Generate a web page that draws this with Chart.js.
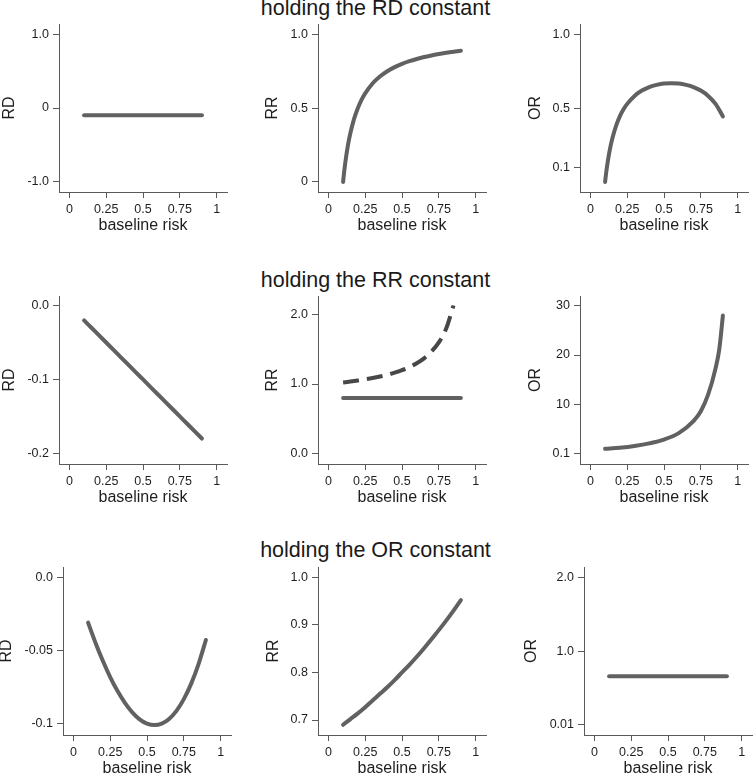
<!DOCTYPE html>
<html>
<head>
<meta charset="utf-8">
<script src="https://cdn.jsdelivr.net/npm/chart.js@4.4.1/dist/chart.umd.min.js"></script>
<style>
html,body{margin:0;padding:0;background:#fff;width:753px;height:773px;overflow:hidden;}
#wrap{position:relative;width:753px;height:773px;}
#wrap canvas{position:absolute;}
.rowtitle{position:absolute;left:-1px;width:753px;text-align:center;font-family:"Liberation Sans",Arial,Helvetica,sans-serif;font-size:21.5px;line-height:22px;color:#1a1a1a;white-space:nowrap;}
</style>
</head>
<body>
<div id="wrap"></div>
<script>
// ---------------- data ----------------
const rowTitles = ["holding the RD constant", "holding the RR constant", "holding the OR constant"];
const xAxisTitle = "baseline risk";
const yAxisTitles = ["RD", "RR", "OR"];

const baselineRisk = [0.1, 0.15, 0.2, 0.25, 0.3, 0.35, 0.4, 0.45, 0.5, 0.55, 0.6, 0.65, 0.7, 0.75, 0.8, 0.85, 0.9];
const baselineRiskFine = [0.1, 0.105, 0.11, 0.12, 0.13, 0.14, 0.15, 0.175, 0.2, 0.225, 0.25, 0.3, 0.35, 0.4, 0.45, 0.5, 0.55, 0.6, 0.65, 0.7, 0.75, 0.8, 0.85, 0.9];
const xTickValues = [0, 0.25, 0.5, 0.75, 1];
const xTickLabels = ["0", "0.25", "0.5", "0.75", "1"];

// row 1: RD held constant
const rdConstRD = [-0.1, -0.1, -0.1, -0.1, -0.1, -0.1, -0.1, -0.1, -0.1, -0.1, -0.1, -0.1, -0.1, -0.1, -0.1, -0.1, -0.1];
const rdConstRR = [0, 0.048, 0.091, 0.167, 0.231, 0.286, 0.333, 0.429, 0.5, 0.556, 0.6, 0.667, 0.714, 0.75, 0.778, 0.8, 0.818, 0.833, 0.846, 0.857, 0.867, 0.875, 0.882, 0.889];
const rdConstOR = [0, 0.043, 0.082, 0.15, 0.207, 0.256, 0.298, 0.382, 0.444, 0.492, 0.529, 0.583, 0.619, 0.643, 0.658, 0.667, 0.669, 0.667, 0.658, 0.643, 0.619, 0.583, 0.529, 0.444];

// row 2: RR held constant
const rrConstRD = [-0.02, -0.03, -0.04, -0.05, -0.06, -0.07, -0.08, -0.09, -0.1, -0.11, -0.12, -0.13, -0.14, -0.15, -0.16, -0.17, -0.18];
const rrConstRR = [0.8, 0.8, 0.8, 0.8, 0.8, 0.8, 0.8, 0.8, 0.8, 0.8, 0.8, 0.8, 0.8, 0.8, 0.8, 0.8, 0.8];
const rrConstRRdashed = [1.022, 1.035, 1.05, 1.067, 1.086, 1.108, 1.133, 1.164, 1.2, 1.244, 1.3, 1.371, 1.467, 1.6, 1.8, 2.133, null];
const rrConstORRisk = [0.1, 0.2, 0.3, 0.4, 0.5, 0.6, 0.7, 0.75, 0.8, 0.85, 0.875, 0.9];
const rrConstOR = [0.97, 1.21, 1.57, 2.09, 2.86, 4.17, 6.6, 8.6, 12.0, 17.3, 21.1, 28.0];

// row 3: OR held constant
const orConstRD = [-0.031, -0.0447, -0.0571, -0.0682, -0.0778, -0.0858, -0.0923, -0.0971, -0.1, -0.101, -0.1, -0.0968, -0.0913, -0.0833, -0.0727, -0.0593, -0.0429];
const orConstRR = [0.69, 0.702, 0.714, 0.727, 0.741, 0.755, 0.769, 0.784, 0.8, 0.816, 0.833, 0.851, 0.87, 0.889, 0.909, 0.93, 0.952];
const orConstOR = [0.667, 0.667, 0.667, 0.667, 0.667, 0.667, 0.667, 0.667, 0.667, 0.667, 0.667, 0.667, 0.667, 0.667, 0.667, 0.667, 0.667];

// y tick values and labels per panel
const yTicksRD1 = [-1, 0, 1];          const yLabelsRD1 = ["-1.0", "0", "1.0"];
const yTicksRR1 = [0, 0.5, 1];         const yLabelsRR1 = ["0", "0.5", "1.0"];
const yTicksOR1 = [0.1, 0.5, 1];       const yLabelsOR1 = ["0.1", "0.5", "1.0"];
const yTicksRD2 = [-0.2, -0.1, 0];     const yLabelsRD2 = ["-0.2", "-0.1", "0.0"];
const yTicksRR2 = [0, 1, 2];           const yLabelsRR2 = ["0.0", "1.0", "2.0"];
const yTicksOR2 = [0.1, 10, 20, 30];   const yLabelsOR2 = ["0.1", "10", "20", "30"];
const yTicksRD3 = [-0.1, -0.05, 0];    const yLabelsRD3 = ["-0.1", "-0.05", "0.0"];
const yTicksRR3 = [0.7, 0.8, 0.9, 1];  const yLabelsRR3 = ["0.7", "0.8", "0.9", "1.0"];
const yTicksOR3 = [0.01, 1, 2];        const yLabelsOR3 = ["0.01", "1.0", "2.0"];

// ---------------- styling / layout ----------------
const FONT = '"Liberation Sans", Arial, Helvetica, sans-serif';
Chart.defaults.font.family = FONT;
const SOLID = '#616161';
const DASHED = '#474747';
const AXIS = '#5a5a5a';
const TEXT = '#1e1e1e';

const areaW = 168, areaH = 168;
const areaLeft = [[59, 318, 580], [59, 318, 580], [63, 318, 584]];
const areaTop = [24, 296, 567];
const yTitleCx = [[10, 273, 536], [10, 273, 536], [7, 274, 532]];
const titleFont = 16, titleLH = titleFont * 1.2;
const padTop = 14;
const xTitleGap = 33;
const rowTitleBaseline = [15, 287, 557];

const panels = [
  {r:0, c:0, yt:0, ymin:-1.14, ymax:1.14, ticks:yTicksRD1, labels:yLabelsRD1, series:[{x:baselineRisk, y:rdConstRD}]},
  {r:0, c:1, yt:1, ymin:-0.068, ymax:1.07, ticks:yTicksRR1, labels:yLabelsRR1, series:[{x:baselineRiskFine, y:rdConstRR}]},
  {r:0, c:2, yt:2, ymin:-0.068, ymax:1.07, ticks:yTicksOR1, labels:yLabelsOR1, series:[{x:baselineRiskFine, y:rdConstOR}]},
  {r:1, c:0, yt:0, ymin:-0.2145, ymax:0.013, ticks:yTicksRD2, labels:yLabelsRD2, series:[{x:baselineRisk, y:rrConstRD}]},
  {r:1, c:1, yt:1, ymin:-0.154, ymax:2.27, ticks:yTicksRR2, labels:yLabelsRR2, series:[{x:baselineRisk, y:rrConstRR}, {x:baselineRisk, y:rrConstRRdashed, dashed:true}]},
  {r:1, c:2, yt:2, ymin:-2.1, ymax:31.97, ticks:yTicksOR2, labels:yLabelsOR2, series:[{x:rrConstORRisk, y:rrConstOR}]},
  {r:2, c:0, yt:0, ymin:-0.1078, ymax:0.007, ticks:yTicksRD3, labels:yLabelsRD3, series:[{x:baselineRisk, y:orConstRD}]},
  {r:2, c:1, yt:1, ymin:0.6685, ymax:1.0217, ticks:yTicksRR3, labels:yLabelsRR3, series:[{x:baselineRisk, y:orConstRR}]},
  {r:2, c:2, yt:2, ymin:-0.125, ymax:2.14, ticks:yTicksOR3, labels:yLabelsOR3, series:[{x:baselineRisk, y:orConstOR}]}
];

const wrap = document.getElementById('wrap');

rowTitles.forEach((t, i) => {
  const d = document.createElement('div');
  d.className = 'rowtitle';
  d.textContent = t;
  // Liberation Sans: ascent .905, descent .212
  const fs = 21.5, lh = 22;
  const baseOff = (lh - 1.117 * fs) / 2 + 0.905 * fs;
  d.style.top = (rowTitleBaseline[i] - baseOff) + 'px';
  wrap.appendChild(d);
});

panels.forEach(p => {
  const aL = areaLeft[p.r][p.c];
  const aT = areaTop[p.r];
  const cL = Math.round(yTitleCx[p.r][p.c] - titleLH / 2);
  const yW = aL - cL;
  const xH = Math.round(xTitleGap + titleLH / 2);
  const cT = aT - padTop;
  const cW = yW + areaW + 2;
  const cH = padTop + areaH + xH;

  const cv = document.createElement('canvas');
  cv.width = cW; cv.height = cH;
  cv.style.left = cL + 'px';
  cv.style.top = cT + 'px';
  cv.style.width = cW + 'px';
  cv.style.height = cH + 'px';
  wrap.appendChild(cv);

  const tickFont = {size: 12.5, family: FONT};
  const ttlFont = {size: titleFont, family: FONT, lineHeight: 1.2};

  new Chart(cv, {
    type: 'line',
    data: {
      datasets: p.series.map(s => ({
        data: s.x.map((x, i) => ({x: x, y: s.y[i]})),
        borderColor: s.dashed ? DASHED : SOLID,
        borderWidth: 4,
        borderDash: s.dashed ? [16, 8] : [],
        borderCapStyle: s.dashed ? 'butt' : 'round',
        borderJoinStyle: 'round',
        pointRadius: 0,
        pointHoverRadius: 0,
        fill: false,
        cubicInterpolationMode: 'monotone',
        spanGaps: false
      }))
    },
    options: {
      responsive: false,
      animation: false,
      devicePixelRatio: 1,
      layout: {padding: {top: padTop, left: 0, right: 2, bottom: 0}},
      plugins: {legend: {display: false}, tooltip: {enabled: false}},
      events: [],
      scales: {
        x: {
          type: 'linear',
          position: 'bottom',
          min: -0.0704,
          max: 1.0704,
          afterFit: s => { s.height = xH; },
          afterBuildTicks: s => { s.ticks = xTickValues.map(v => ({value: v})); },
          ticks: {autoSkip: false, maxRotation: 0, minRotation: 0, padding: 4, color: TEXT, font: tickFont,
                  callback: (v, i) => xTickLabels[i]},
          grid: {drawOnChartArea: false, drawTicks: true, tickLength: 6, color: AXIS, lineWidth: 1},
          border: {display: true, color: AXIS, width: 1},
          title: {display: true, text: xAxisTitle, color: TEXT, font: ttlFont, padding: 0}
        },
        y: {
          type: 'linear',
          position: 'left',
          min: p.ymin,
          max: p.ymax,
          afterFit: s => { s.width = yW; },
          afterBuildTicks: s => { s.ticks = p.ticks.map(v => ({value: v})); },
          ticks: {autoSkip: false, padding: 4, color: TEXT, font: tickFont,
                  callback: (v, i) => p.labels[i]},
          grid: {drawOnChartArea: false, drawTicks: true, tickLength: 6, color: AXIS, lineWidth: 1},
          border: {display: true, color: AXIS, width: 1},
          title: {display: true, text: yAxisTitles[p.yt], color: TEXT, font: ttlFont, padding: 0}
        }
      }
    }
  });
});
</script>
</body>
</html>
